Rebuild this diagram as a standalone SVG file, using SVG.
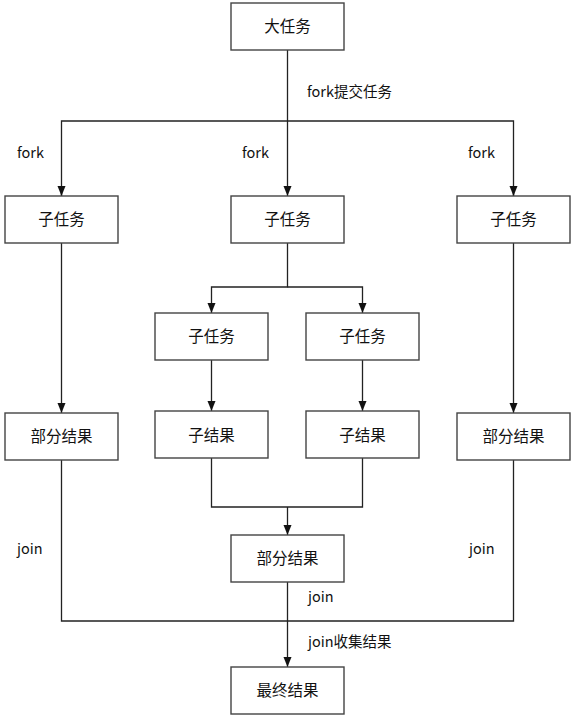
<svg xmlns="http://www.w3.org/2000/svg" width="576" height="722" viewBox="0 0 576 722">
<style>
.box{fill:#fff;stroke:#444;stroke-width:1.4}
.t{font-family:"Noto Sans CJK SC","Microsoft YaHei",sans-serif;font-size:15.5px;fill:#111;text-anchor:middle}
.l{font-family:"Noto Sans CJK SC","Microsoft YaHei",sans-serif;font-size:14.5px;fill:#111}
.c{fill:none;stroke:#222;stroke-width:1.3}
</style>
<defs>
<marker id="a" markerWidth="10" markerHeight="10" viewBox="0 0 10 10" refX="10" refY="5" orient="auto" markerUnits="userSpaceOnUse">
<path d="M0,1 L10,5 L0,9 Z" fill="#111"/>
</marker>
</defs>
<rect width="576" height="722" fill="#fff"/>
<g id="connectors">
<path class="c" d="M287.5,50 V196" marker-end="url(#a)"/>
<path class="c" d="M61.5,196 V121 H513.5 V196" />
<path class="c" d="M61.5,186 V196" marker-end="url(#a)"/>
<path class="c" d="M513.5,186 V196" marker-end="url(#a)"/>
<path class="c" d="M61.5,243 V413" marker-end="url(#a)"/>
<path class="c" d="M513.5,243 V413" marker-end="url(#a)"/>
<path class="c" d="M287.5,243 V287 H211.5 V313" marker-end="url(#a)"/>
<path class="c" d="M287.5,287 H362.5 V313" marker-end="url(#a)"/>
<path class="c" d="M211.5,360 V411" marker-end="url(#a)"/>
<path class="c" d="M362.5,360 V411" marker-end="url(#a)"/>
<path class="c" d="M211.5,458 V507 H362.5 V458"/>
<path class="c" d="M287.5,507 V535" marker-end="url(#a)"/>
<path class="c" d="M61.5,460 V621 H513.5 V460"/>
<path class="c" d="M287.5,582 V667" marker-end="url(#a)"/>
</g>
<g id="labels">
<text class="l" x="307" y="97">fork提交任务</text>
<text class="l" x="17" y="158">fork</text>
<text class="l" x="242" y="158">fork</text>
<text class="l" x="468" y="158">fork</text>
<text class="l" x="17" y="554">join</text>
<text class="l" x="469" y="554">join</text>
<text class="l" x="308" y="602">join</text>
<text class="l" x="308" y="647">join收集结果</text>
</g>
<g id="n-big"><rect class="box" x="231" y="3" width="113" height="47"/><text class="t" x="287.5" y="32">大任务</text></g>
<g id="n-sub-l"><rect class="box" x="5" y="196" width="113" height="47"/><text class="t" x="61.5" y="225">子任务</text></g>
<g id="n-sub-m"><rect class="box" x="231" y="196" width="113" height="47"/><text class="t" x="287.5" y="225">子任务</text></g>
<g id="n-sub-r"><rect class="box" x="457" y="196" width="113" height="47"/><text class="t" x="513.5" y="225">子任务</text></g>
<g id="n-sub-ml"><rect class="box" x="155" y="313" width="113" height="47"/><text class="t" x="211.5" y="342">子任务</text></g>
<g id="n-sub-mr"><rect class="box" x="306" y="313" width="113" height="47"/><text class="t" x="362.5" y="342">子任务</text></g>
<g id="n-part-l"><rect class="box" x="5" y="413" width="113" height="47"/><text class="t" x="61.5" y="442">部分结果</text></g>
<g id="n-res-ml"><rect class="box" x="155" y="411" width="113" height="47"/><text class="t" x="211.5" y="441">子结果</text></g>
<g id="n-res-mr"><rect class="box" x="306" y="411" width="113" height="47"/><text class="t" x="362.5" y="441">子结果</text></g>
<g id="n-part-r"><rect class="box" x="457" y="413" width="113" height="47"/><text class="t" x="513.5" y="442">部分结果</text></g>
<g id="n-part-m"><rect class="box" x="231" y="535" width="113" height="47"/><text class="t" x="287.5" y="564">部分结果</text></g>
<g id="n-final"><rect class="box" x="231" y="667" width="113" height="47"/><text class="t" x="287.5" y="696">最终结果</text></g>
</svg>
